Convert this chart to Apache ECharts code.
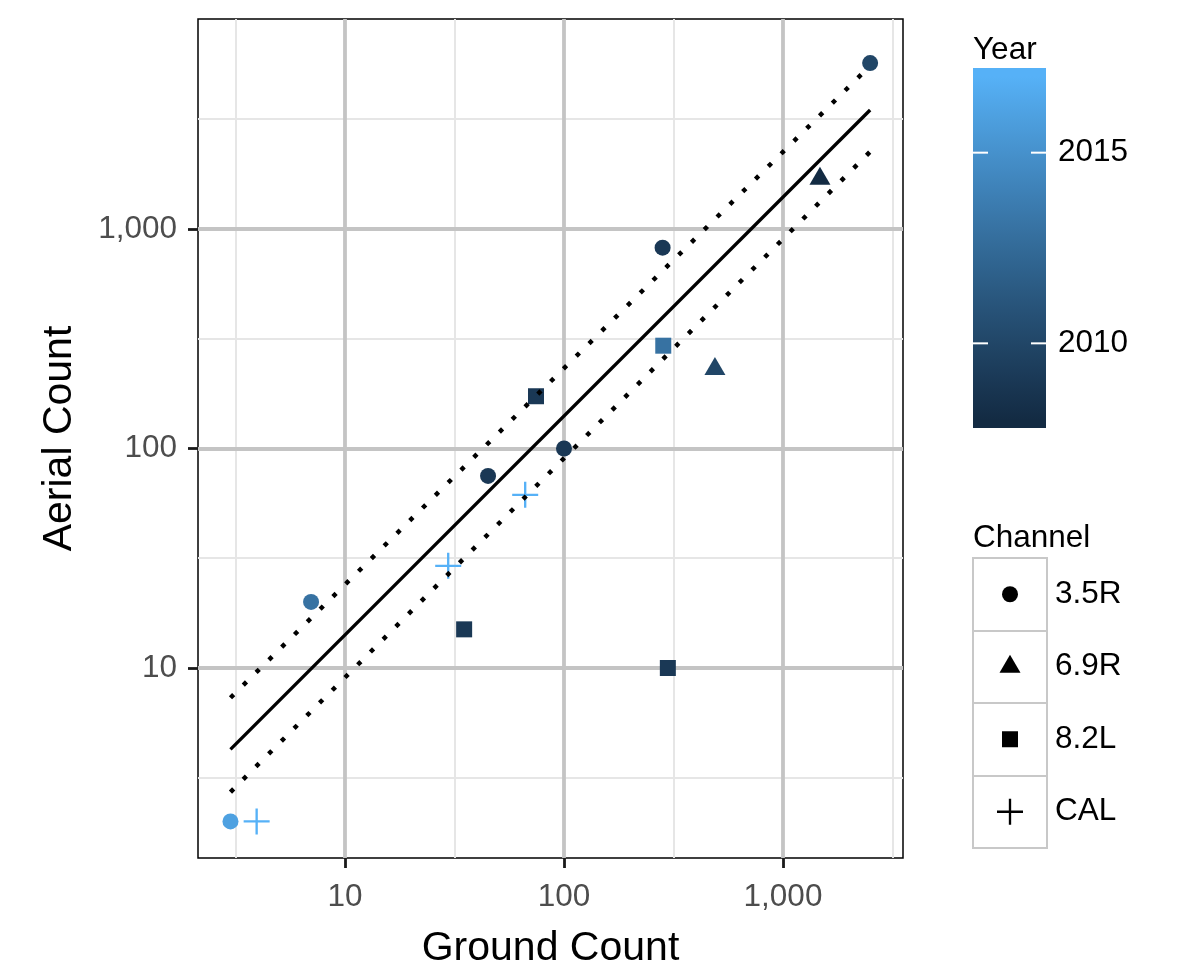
<!DOCTYPE html>
<html>
<head>
<meta charset="utf-8">
<script src="https://cdn.jsdelivr.net/npm/echarts@6/dist/echarts.min.js"></script>
<style>
html,body{margin:0;padding:0;background:#fff;}
#chart{width:1199px;height:974px;}
</style>
</head>
<body>
<div id="chart"></div>
<script>
// ---------------- data ----------------
const channels = ['3.5R', '6.9R', '8.2L', 'CAL'];

const ground35R = [3, 7, 45, 100, 282, 2500];
const aerial35R = [2, 20, 75, 100, 822, 5700];
const year35R   = [2016, 2013, 2009, 2009, 2009, 2010];

const ground69R = [489, 1475];
const aerial69R = [230, 1695];
const year69R   = [2010, 2008];

const ground82L = [35, 74.5, 284, 298];
const aerial82L = [15, 173, 294, 10];
const year82L   = [2009, 2009, 2013, 2009];

const groundCAL = [3.95, 29.6, 66.5];
const aerialCAL = [2, 29.2, 61.5];
const yearCAL   = [2017, 2017, 2017];

// fitted line and interval (end points)
const fitX   = [3, 2500];
const fitY   = [4.26, 3484];
const upperY = [7.32, 5540];
const lowerY = [2.72, 2250];

const xTicks = [10, 100, 1000];
const yTicks = [10, 100, 1000];
const yearTicks = [2010, 2015];
const yearMin = 2008, yearMax = 2017;

// ---------------- helpers ----------------
const FONT = "'Liberation Sans', Arial, Helvetica, sans-serif";
const L10 = Math.log10;
const X_MIN = 0.3288, X_MAX = 3.548;
const Y_MIN = 0.1344, Y_MAX = 3.9567;

function hexRgb(h){h=h.replace('#','');return [0,2,4].map(i=>parseInt(h.substr(i,2),16));}
function toLin(c){c/=255;return c<=0.04045?c/12.92:Math.pow((c+0.055)/1.055,2.4);}
function toS(c){c=c<=0.0031308?12.92*c:1.055*Math.pow(c,1/2.4)-0.055;return Math.round(Math.max(0,Math.min(1,c))*255);}
const WX=0.95047, WY=1, WZ=1.08883;
function f(t){return t>0.008856?Math.cbrt(t):(7.787*t+16/116);}
function fi(t){return t>0.206893?t*t*t:(t-16/116)/7.787;}
function rgb2lab(rgb){
  const [r,g,b]=rgb.map(toLin);
  const X=0.4124*r+0.3576*g+0.1805*b, Y=0.2126*r+0.7152*g+0.0722*b, Z=0.0193*r+0.1192*g+0.9505*b;
  const fx=f(X/WX), fy=f(Y/WY), fz=f(Z/WZ);
  return [116*fy-16, 500*(fx-fy), 200*(fy-fz)];
}
function lab2hex(lab){
  const fy=(lab[0]+16)/116, fx=fy+lab[1]/500, fz=fy-lab[2]/200;
  const X=WX*fi(fx), Y=WY*fi(fy), Z=WZ*fi(fz);
  const r=3.2406*X-1.5372*Y-0.4986*Z, g=-0.9689*X+1.8758*Y+0.0415*Z, b=0.0557*X-0.2040*Y+1.0570*Z;
  return '#'+[r,g,b].map(v=>toS(v).toString(16).padStart(2,'0')).join('');
}
const LOW = rgb2lab(hexRgb('#132B43')), HIGH = rgb2lab(hexRgb('#56B1F7'));
function yearColor(y){const t=(y-yearMin)/(yearMax-yearMin);return lab2hex(LOW.map((v,i)=>v+(HIGH[i]-v)*t));}
const yearList = []; for (let y = yearMin; y <= yearMax; y++) yearList.push(y);
const yearColors = yearList.map(yearColor);

const BAR_MIN = 2007.78, BAR_MAX = 2017.22;
const barStops = [{offset:0,color:yearColors[0]}]
  .concat(yearList.map((y,i)=>({offset:(y-BAR_MIN)/(BAR_MAX-BAR_MIN),color:yearColors[i]})))
  .concat([{offset:1,color:yearColors[yearColors.length-1]}]);

const PLUS = 'path://M-0.09,-1L0.09,-1L0.09,-0.09L1,-0.09L1,0.09L0.09,0.09L0.09,1L-0.09,1L-0.09,0.09L-1,0.09L-1,-0.09L-0.09,-0.09Z';
const symbols = ['circle', 'triangle', 'rect', PLUS];
const symSizes = [16, [21, 18], 16, 26];
const symOffsets = [[0,0],[0,-3],[0,0],[0,0]];

function pts(gx, ay, yr){ return gx.map((g,i)=>[L10(g), L10(ay[i]), yr[i]]); }
function lbl(list){ return function(v){ for (const t of list){ if (Math.abs(L10(t)-v)<1e-6) return t.toLocaleString('en-US'); } return ''; }; }

const groups = [[ground35R,aerial35R,year35R],[ground69R,aerial69R,year69R],[ground82L,aerial82L,year82L],[groundCAL,aerialCAL,yearCAL]];

const series = [];
groups.forEach((g,i)=>{
  series.push({
    type:'scatter', name:channels[i], xAxisIndex:1, yAxisIndex:1,
    symbol:symbols[i], symbolSize:symSizes[i], symbolOffset:symOffsets[i],
    itemStyle:{opacity:1},
    data:pts(g[0],g[1],g[2]), z:3, silent:true
  });
});
function lineSer(ys, dotted){
  return {type:'line', xAxisIndex:1, yAxisIndex:1, symbol:'none', showSymbol:false, silent:true, z:4,
    data:[[L10(fitX[0]),L10(ys[0])],[L10(fitX[1]),L10(ys[1])]],
    lineStyle: dotted ? {color:'#000', width:4.5, type:[4.5,13.5], cap:'butt', opacity:1} : {color:'#000', width:3.3, opacity:1}};
}
series.push(lineSer(fitY,false), lineSer(upperY,true), lineSer(lowerY,true));
// legend keys (channel)
series.push({
  type:'scatter', xAxisIndex:2, yAxisIndex:2, silent:true, z:3,
  itemStyle:{color:'#000', opacity:1},
  data: channels.map((c,i)=>({value:[0.5,i], symbol:symbols[i], symbolSize:symSizes[i], symbolOffset:symOffsets[i]}))
});
// colour bar with its white tick marks
series.push({
  type:'custom', xAxisIndex:3, yAxisIndex:3, silent:true, z:1,
  data:[[0]],
  renderItem:function(params, api){
    const p0 = api.coord([0, BAR_MIN]), p1 = api.coord([1, BAR_MAX]);
    const children = [{type:'rect', shape:{x:p0[0], y:p1[1], width:p1[0]-p0[0], height:p0[1]-p1[1]},
      style:{fill:{type:'linear', x:0, y:1, x2:0, y2:0, colorStops:barStops}}}];
    yearTicks.forEach(function(t){
      const yy = api.coord([0, t])[1];
      children.push({type:'line', shape:{x1:p0[0], y1:yy, x2:p0[0]+15, y2:yy}, style:{stroke:'#fff', lineWidth:2}});
      children.push({type:'line', shape:{x1:p1[0]-15, y1:yy, x2:p1[0], y2:yy}, style:{stroke:'#fff', lineWidth:2}});
    });
    return {type:'group', children:children};
  }
});

const chart = echarts.init(document.getElementById('chart'), null, {renderer:'canvas'});
chart.setOption({
  animation:false,
  backgroundColor:'#fff',
  textStyle:{fontFamily:FONT},
  title:[
    {text:'Year', left:973, top:34, padding:0, textStyle:{fontSize:31.5, fontWeight:'normal', color:'#000', fontFamily:FONT}},
    {text:'Channel', left:973, top:522, padding:0, textStyle:{fontSize:31.5, fontWeight:'normal', color:'#000', fontFamily:FONT}}
  ],
  grid:[
    {left:198, top:19, width:705, height:839, show:true, borderColor:'#000', borderWidth:1.5, backgroundColor:'transparent', containLabel:false, outerBoundsMode:'none'},
    {left:973, top:558, width:74, height:290, show:true, borderColor:'#c8c8c8', borderWidth:2, backgroundColor:'transparent', containLabel:false, outerBoundsMode:'none'},
    {left:973, top:68, width:73, height:360, show:false, containLabel:false, outerBoundsMode:'none'}
  ],
  visualMap:{type:'continuous', show:false, dimension:2, seriesIndex:[0,1,2,3], min:yearMin, max:yearMax, inRange:{color:yearColors}},
  xAxis:[
    {gridIndex:0, type:'value', min:X_MIN, max:X_MAX, splitNumber:6, position:'top', z:0,
      axisLine:{show:false}, axisTick:{show:false}, axisLabel:{show:false},
      splitLine:{show:true, showMinLine:false, showMaxLine:false, lineStyle:{color:'#e6e6e6', width:2}}},
    {gridIndex:0, type:'value', min:X_MIN, max:X_MAX, splitNumber:4, position:'bottom', z:1,
      axisLine:{show:false},
      axisTick:{show:true, customValues:xTicks.map(L10), length:10, lineStyle:{color:'#1a1a1a', width:2.8}},
      axisLabel:{show:true, customValues:xTicks.map(L10), formatter:lbl(xTicks), margin:23, color:'#4d4d4d', fontSize:31.5, fontFamily:FONT},
      splitLine:{show:true, lineStyle:{color:'#c4c4c4', width:3.8}},
      name:'Ground Count', nameLocation:'middle', nameGap:70,
      nameTextStyle:{fontSize:41, color:'#000', fontFamily:FONT}},
    {gridIndex:1, type:'value', min:0, max:1, show:false},
    {gridIndex:2, type:'value', min:0, max:1, show:false}
  ],
  yAxis:[
    {gridIndex:0, type:'value', min:Y_MIN, max:Y_MAX, splitNumber:8, position:'right', z:0,
      axisLine:{show:false}, axisTick:{show:false}, axisLabel:{show:false},
      splitLine:{show:true, showMinLine:false, showMaxLine:false, lineStyle:{color:'#e6e6e6', width:2}}},
    {gridIndex:0, type:'value', min:Y_MIN, max:Y_MAX, splitNumber:4, position:'left', z:1,
      axisLine:{show:false},
      axisTick:{show:true, customValues:yTicks.map(L10), length:10, lineStyle:{color:'#1a1a1a', width:2.8}},
      axisLabel:{show:true, customValues:yTicks.map(L10), formatter:lbl(yTicks), margin:21, color:'#4d4d4d', fontSize:31.5, fontFamily:FONT},
      splitLine:{show:true, lineStyle:{color:'#c4c4c4', width:3.8}},
      name:'Aerial Count', nameLocation:'middle', nameGap:118, nameRotate:90,
      nameTextStyle:{fontSize:41, color:'#000', fontFamily:FONT}},
    {gridIndex:1, type:'category', data:channels, inverse:true, position:'right',
      axisLine:{show:false}, axisTick:{show:false},
      axisLabel:{margin:8, fontSize:31.5, color:'#000', fontFamily:FONT},
      splitLine:{show:true, lineStyle:{color:'#c8c8c8', width:2}}},
    {gridIndex:2, type:'value', min:BAR_MIN, max:BAR_MAX, position:'right', z:5,
      axisLine:{show:false}, splitLine:{show:false}, axisTick:{show:false},
      axisLabel:{show:true, customValues:yearTicks, margin:12, fontSize:31.5, color:'#000', fontFamily:FONT,
        formatter:function(v){ return yearTicks.indexOf(Math.round(v))>=0 && Math.abs(v-Math.round(v))<1e-6 ? String(Math.round(v)) : ''; }}}
  ],
  series:series
});
</script>
</body>
</html>
